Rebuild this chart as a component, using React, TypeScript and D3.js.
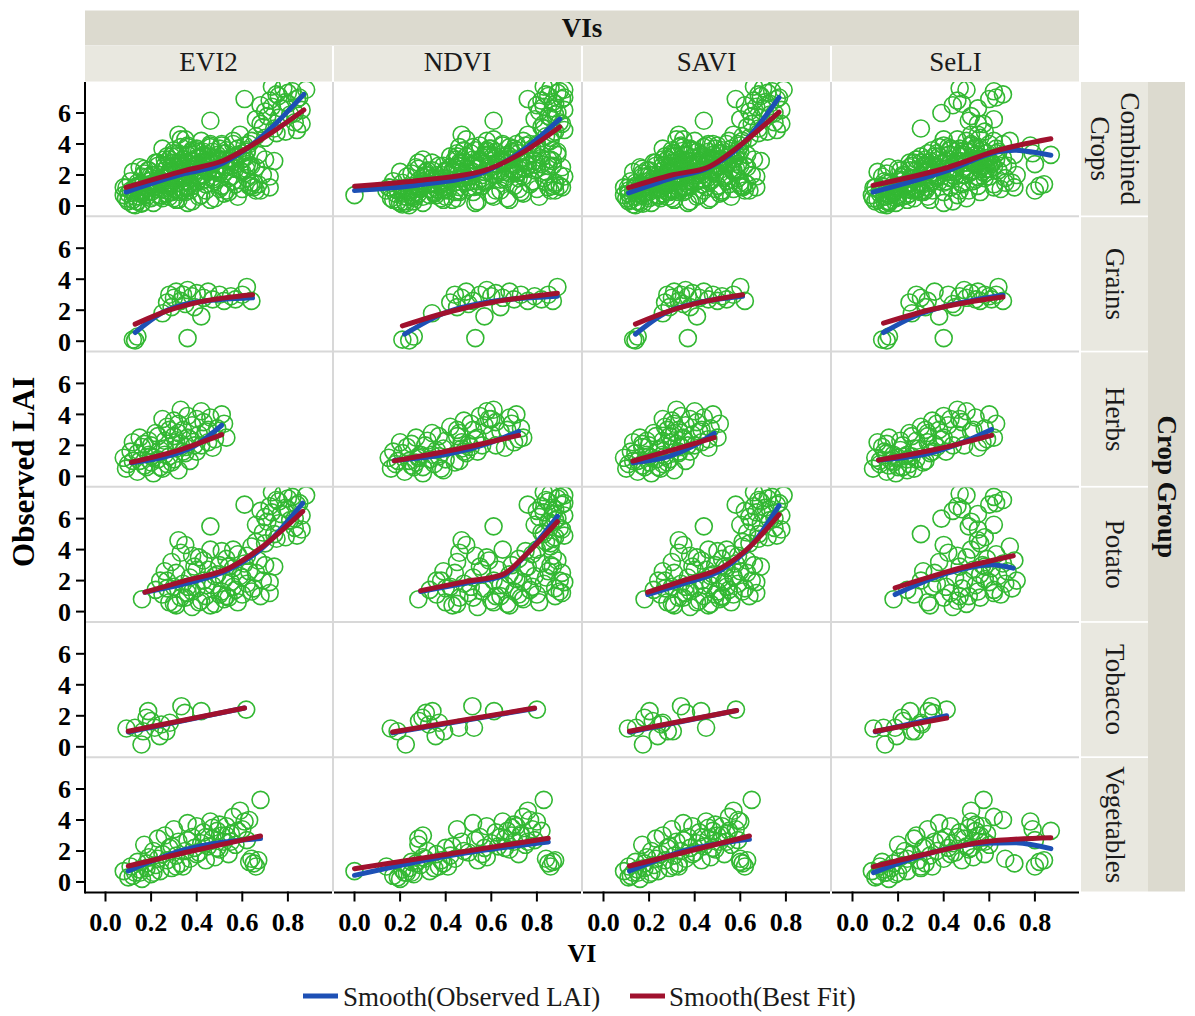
import React from 'react';
import * as d3 from 'd3';

// ---------- categories & ticks ----------
const VIS = ['EVI2', 'NDVI', 'SAVI', 'SeLI'];
const GROUPS = ['Combined Crops', 'Grains', 'Herbs', 'Potato', 'Tobacco', 'Vegetables'];
const Y_TICKS = [0, 2, 4, 6];
const X_TICKS = [0, 0.2, 0.4, 0.6, 0.8];
const LEGEND = ['Smooth(Observed LAI)', 'Smooth(Best Fit)'];

// ---------- observations (LAI shared across VIs; null = VI not available) ----------
const grainsLAI = [0.1,0.3,0.05,0.2,1.8,2.5,3.0,2.8,3.2,2.6,3.0,2.4,3.3,2.9,3.1,1.6,2.8,3.2,2.7,3.0,2.6,2.9,2.7,3.0,3.5,2.6,2.2,2.2];
const grainsEVI2 = [0.12,0.14,0.13,0.36,0.25,0.27,0.28,0.30,0.31,0.33,0.34,0.35,0.36,0.38,0.40,0.42,0.43,0.45,0.47,0.50,0.52,0.55,0.57,0.60,0.62,0.64,0.29,0.39];
const grainsNDVI = [0.21,0.26,0.24,0.53,0.34,0.42,0.44,0.47,0.49,0.52,0.55,0.50,0.58,0.60,0.62,0.57,0.65,0.68,0.70,0.73,0.76,0.79,0.82,0.85,0.89,0.87,0.45,0.64];
const grainsSAVI = [0.13,0.15,0.14,0.37,0.26,0.27,0.28,0.30,0.31,0.33,0.34,0.35,0.36,0.37,0.39,0.41,0.42,0.44,0.46,0.48,0.50,0.52,0.54,0.57,0.60,0.62,0.29,0.38];
const grainsSeLI = [0.13,0.16,0.15,0.40,0.26,0.25,0.28,0.30,0.36,0.33,0.42,0.44,0.49,0.47,0.52,0.38,0.50,0.55,0.54,0.58,0.56,0.60,0.61,0.63,0.64,0.66,0.32,0.45];

const herbsLAI = [0.5,0.8,1.2,1.6,2.2,0.3,1.0,1.9,2.5,0.6,1.4,2.0,0.2,2.8,1.1,1.7,0.5,2.3,3.2,1.3,0.9,2.6,3.6,1.8,0.4,2.1,3.0,1.5,3.9,2.4,1.0,3.3,2.0,4.2,2.7,1.6,3.5,2.9,1.85,3.8,2.2,4.0,3.1,2.5,3.4,1.3,2.1,0.8,1.9,2.8,4.3,3.7,
  1.0,1.5,0.7,2.3,1.2,2.6,0.6,1.8,3.0,1.1,2.2,3.4,1.6,2.5,3.7,2.0,3.0,2.4,1.4,0.9];
const herbsEVI2 = [0.09,0.10,0.08,0.11,0.12,0.14,0.15,0.16,0.15,0.18,0.19,0.20,0.21,0.22,0.23,0.24,0.25,0.26,0.27,0.28,0.29,0.30,0.30,0.31,0.32,0.33,0.34,0.35,0.36,0.37,0.37,0.38,0.39,0.42,0.41,0.40,0.43,0.44,0.47,0.46,0.45,0.51,0.49,0.53,0.52,0.20,0.17,0.27,0.35,0.32,0.33,0.25,
  0.12,0.14,0.17,0.19,0.21,0.23,0.24,0.26,0.28,0.30,0.31,0.32,0.34,0.36,0.40,0.42,0.45,0.48,0.26,0.20];
const herbsNDVI = [0.16,0.18,0.15,0.17,0.20,0.22,0.24,0.23,0.27,0.26,0.29,0.31,0.30,0.34,0.33,0.36,0.38,0.40,0.42,0.37,0.44,0.45,0.48,0.47,0.39,0.50,0.52,0.49,0.55,0.53,0.46,0.57,0.56,0.58,0.60,0.54,0.62,0.64,0.66,0.68,0.70,0.71,0.73,0.74,0.69,0.28,0.25,0.35,0.51,0.46,0.61,0.59,
  0.19,0.21,0.25,0.32,0.28,0.37,0.30,0.39,0.45,0.40,0.47,0.51,0.48,0.54,0.60,0.62,0.67,0.72,0.34,0.27];
const herbsSAVI = [0.10,0.11,0.09,0.12,0.13,0.15,0.15,0.17,0.16,0.18,0.19,0.20,0.21,0.22,0.23,0.24,0.25,0.26,0.27,0.27,0.28,0.29,0.30,0.30,0.31,0.32,0.33,0.33,0.34,0.35,0.36,0.36,0.37,0.40,0.39,0.38,0.41,0.42,0.46,0.44,0.43,0.48,0.47,0.50,0.51,0.20,0.17,0.26,0.34,0.31,0.32,0.26,
  0.13,0.14,0.17,0.19,0.21,0.23,0.24,0.25,0.28,0.29,0.30,0.31,0.33,0.35,0.38,0.40,0.43,0.46,0.26,0.20];
const herbsSeLI = [0.09,0.12,0.10,0.14,0.11,0.15,0.17,0.13,0.16,0.20,0.18,0.22,0.19,0.25,0.24,0.21,0.27,0.28,0.30,0.26,0.31,0.33,0.35,0.29,0.24,0.36,0.38,0.34,0.40,0.39,0.32,0.42,0.44,0.50,0.46,0.41,0.48,0.52,0.55,0.54,0.57,0.60,0.58,0.62,0.63,0.23,0.15,0.25,0.37,0.33,0.46,0.43,
  0.12,0.15,0.16,0.21,0.20,0.26,0.22,0.27,0.32,0.28,0.33,0.37,0.35,0.40,0.47,0.49,0.53,0.59,0.24,0.18];

const potatoLAI = [7.6,7.4,7.2,7.0,6.8,6.6,6.5,6.3,6.0,5.8,5.6,5.5,5.3,5.0,4.8,4.6,4.4,4.3,6.9,7.5,
  0.8,1.4,1.1,2.0,0.6,1.6,2.5,3.2,0.9,1.8,3.8,1.2,2.2,0.3,2.9,1.5,3.5,0.7,2.0,1.0,2.7,4.0,1.7,0.5,2.4,3.0,1.3,2.1,3.4,0.9,1.9,2.8,1.4,3.7,2.3,1.1,3.1,1.8,2.6,4.2,1.5,3.3,2.0,1.2,2.9,1.6,2.6,0.4,3.6,1.0,
  7.3,7.1,6.9,6.7,6.4,6.2,6.1,5.9,5.7,5.4,5.1,4.9,4.7,4.5,7.7,
  0.5,0.9,1.3,0.6,1.7,0.4,2.3,1.1,0.8,2.9,1.6,0.6,2.2,3.6,1.3,2.5,1.0,3.0,1.9,4.0,3.3,2.7,1.5,2.0,3.9];
const potatoEVI2 = [0.78,0.82,0.75,0.85,0.72,0.80,0.68,0.77,0.83,0.71,0.66,0.46,0.86,0.74,0.79,0.32,0.70,0.35,0.61,0.88,
  0.16,0.22,0.25,0.27,0.28,0.30,0.31,0.29,0.33,0.34,0.33,0.36,0.37,0.38,0.39,0.40,0.41,0.42,0.43,0.44,0.45,0.46,0.47,0.48,0.49,0.50,0.51,0.52,0.53,0.54,0.55,0.56,0.57,0.58,0.59,0.60,0.61,0.62,0.63,0.64,0.65,0.67,0.69,0.72,0.74,0.36,0.26,0.31,0.38,0.53,
  0.80,0.76,0.84,0.79,0.73,0.86,0.70,0.81,0.76,0.83,0.69,0.84,0.75,0.66,0.73,
  0.30,0.35,0.38,0.41,0.44,0.46,0.48,0.50,0.52,0.54,0.56,0.58,0.60,0.62,0.64,0.66,0.68,0.70,0.72,0.56,0.43,0.40,0.27,0.24,0.51];
const potatoNDVI = [0.86,0.90,0.84,0.92,0.82,0.88,0.80,0.87,0.89,0.85,0.79,0.61,0.91,0.83,0.88,0.47,0.86,0.49,0.76,0.92,
  0.28,0.33,0.36,0.38,0.40,0.42,0.44,0.45,0.46,0.48,0.46,0.50,0.52,0.54,0.55,0.57,0.58,0.60,0.61,0.62,0.63,0.65,0.66,0.67,0.68,0.69,0.70,0.71,0.72,0.73,0.74,0.75,0.77,0.78,0.79,0.80,0.82,0.83,0.85,0.86,0.88,0.89,0.90,0.91,0.87,0.51,0.39,0.43,0.53,0.64,
  0.89,0.85,0.91,0.87,0.83,0.92,0.81,0.88,0.86,0.90,0.82,0.92,0.87,0.84,0.83,
  0.45,0.52,0.56,0.61,0.64,0.68,0.70,0.72,0.74,0.76,0.78,0.81,0.84,0.87,0.90,0.91,0.88,0.86,0.92,0.80,0.59,0.56,0.40,0.36,0.75];
const potatoSAVI = [0.70,0.74,0.68,0.77,0.66,0.73,0.62,0.70,0.75,0.65,0.60,0.44,0.78,0.68,0.72,0.33,0.64,0.35,0.58,0.79,
  0.18,0.22,0.25,0.27,0.28,0.30,0.31,0.30,0.33,0.34,0.33,0.36,0.37,0.38,0.39,0.40,0.41,0.42,0.43,0.44,0.45,0.46,0.47,0.47,0.48,0.49,0.50,0.51,0.52,0.52,0.53,0.54,0.55,0.56,0.57,0.57,0.58,0.59,0.60,0.61,0.62,0.63,0.65,0.67,0.69,0.36,0.26,0.31,0.38,0.52,
  0.72,0.69,0.76,0.71,0.67,0.78,0.64,0.73,0.69,0.75,0.63,0.76,0.68,0.61,0.66,
  0.30,0.35,0.38,0.41,0.44,0.46,0.47,0.49,0.51,0.53,0.54,0.56,0.57,0.59,0.61,0.63,0.64,0.66,0.67,0.54,0.43,0.40,0.27,0.24,0.50];
const potatoSeLI = [0.47,0.62,0.66,0.63,0.46,0.48,0.44,0.55,0.39,0.52,0.62,0.51,0.55,0.30,0.58,0.55,0.56,0.40,0.60,0.50,
  0.18,0.24,0.27,0.30,0.33,0.35,0.36,0.38,0.40,0.37,0.42,0.43,0.45,0.44,0.47,0.48,0.50,0.46,0.49,0.51,0.53,0.52,0.54,0.50,0.56,0.57,0.55,0.58,0.59,0.56,0.60,0.61,0.62,0.63,0.64,0.65,0.66,0.67,0.68,0.69,0.70,0.71,0.72,0.62,0.58,0.41,0.31,0.34,0.46,0.47,
  null,null,null,null,null,null,null,null,null,null,null,null,null,null,null,
  null,null,null,null,null,null,null,null,null,null,null,null,null,null,null,null,null,null,null,null,null,null,null,null,null];

const tobaccoLAI = [1.18,0.15,2.3,1.87,1.66,1.44,0.69,1.0,1.55,2.62,2.19,2.3,2.4,1.23,1.0,1.23];
const tobaccoEVI2 = [0.092,0.158,0.187,0.18,0.20,0.245,0.238,0.267,0.282,0.333,0.348,0.42,0.617,0.129,0.165,0.216];
const tobaccoNDVI = [0.159,0.225,0.342,0.298,0.283,0.327,0.356,0.189,0.371,0.517,0.313,0.612,0.80,0.458,0.393,0.524];
const tobaccoSAVI = [0.107,0.173,0.202,0.18,0.216,0.253,0.238,0.282,0.26,0.34,0.362,0.428,0.581,0.143,0.304,0.45];
const tobaccoSeLI = [0.092,0.143,0.253,0.216,0.224,0.304,0.194,0.26,0.30,0.348,0.355,0.333,0.413,0.136,0.275,0.187];

const vegLAI = [0.7,0.3,1.0,0.6,1.3,0.2,2.4,0.9,1.6,0.5,2.0,1.1,2.8,0.7,1.8,3.0,1.4,2.2,0.9,3.4,1.7,2.6,1.2,3.8,2.0,1.5,2.9,3.6,1.9,2.5,
  3.2,1.4,2.3,3.9,2.8,1.6,3.3,2.1,3.0,2.6,3.6,1.8,3.1,4.2,2.4,4.6,3.4,2.7,3.9,5.3,1.5,1.2,1.0,1.4,3.3,4.0,0.6,2.2,1.0,2.9,
  0.4,0.8,1.2,0.6,1.5,2.3,1.0,2.7,1.8,3.5,2.2,3.0,2.6,3.7,1.3];
const vegEVI2 = [0.08,0.10,0.11,0.13,0.14,0.16,0.17,0.18,0.19,0.20,0.21,0.22,0.23,0.24,0.25,0.26,0.27,0.28,0.29,0.30,0.31,0.32,0.33,0.36,0.35,0.37,0.38,0.40,0.41,0.42,
  0.43,0.44,0.45,0.46,0.47,0.48,0.49,0.50,0.51,0.52,0.53,0.54,0.55,0.56,0.57,0.59,0.60,0.62,0.61,0.68,0.64,0.65,0.66,0.67,0.58,0.63,0.15,0.39,0.34,0.44,
  0.12,0.15,0.18,0.21,0.23,0.29,0.31,0.36,0.40,0.47,0.49,0.53,0.55,0.50,0.63];
const vegNDVI = [0.00,0.19,0.14,0.22,0.25,0.20,0.28,0.24,0.30,0.26,0.32,0.29,0.28,0.33,0.36,0.30,0.38,0.40,0.35,0.45,0.42,0.47,0.39,0.52,0.48,0.44,0.55,0.58,0.50,0.60,
  0.62,0.54,0.63,0.65,0.66,0.58,0.67,0.68,0.69,0.70,0.71,0.72,0.73,0.74,0.75,0.76,0.78,0.79,0.80,0.83,0.84,0.85,0.86,0.88,0.82,0.77,0.23,0.57,0.41,0.64,
  0.17,0.21,0.27,0.25,0.31,0.43,0.37,0.53,0.56,0.69,0.66,0.73,0.76,0.70,0.87];
const vegSAVI = [0.09,0.11,0.11,0.13,0.14,0.16,0.17,0.18,0.19,0.20,0.21,0.22,0.23,0.24,0.25,0.26,0.27,0.28,0.29,0.30,0.31,0.32,0.33,0.35,0.34,0.36,0.37,0.39,0.40,0.41,
  0.42,0.43,0.44,0.45,0.46,0.47,0.48,0.49,0.50,0.51,0.52,0.53,0.54,0.55,0.56,0.57,0.58,0.59,0.60,0.65,0.60,0.61,0.62,0.63,0.55,0.59,0.15,0.38,0.33,0.43,
  0.12,0.15,0.18,0.21,0.23,0.29,0.31,0.35,0.39,0.46,0.48,0.52,0.54,0.49,0.60];
const vegSeLI = [0.085,0.10,0.12,0.14,0.13,0.16,0.20,0.17,0.21,0.19,0.23,0.22,0.27,0.24,0.26,0.28,0.29,0.31,0.30,0.33,0.34,0.36,0.32,0.38,0.37,0.40,0.41,0.43,0.45,0.44,
  0.47,0.48,0.50,0.52,0.49,0.53,0.54,0.51,0.55,0.56,0.57,0.58,0.59,0.62,0.60,0.52,0.79,0.80,0.78,0.575,0.67,0.71,0.80,0.84,0.87,0.66,0.15,0.42,0.35,0.46,
  0.11,0.14,0.18,0.20,0.24,0.32,0.30,0.39,0.43,0.51,0.52,0.56,0.58,0.54,0.82];

// ---------- smooth curves: [VI, LAI] per VI (EVI2, NDVI, SAVI, SeLI) ----------
const combinedObsSmooth = [
  [[0.09,0.9],[0.35,2.1],[0.49,2.6],[0.61,3.6],[0.87,7.2]],
  [[0.0,1.0],[0.28,1.35],[0.57,2.2],[0.72,3.4],[0.90,5.6]],
  [[0.11,0.84],[0.30,1.8],[0.465,2.5],[0.58,3.6],[0.77,7.0]],
  [[0.09,0.9],[0.42,2.3],[0.64,3.5],[0.71,3.6],[0.87,3.27]],
];
const combinedFitSmooth = [
  [[0.09,1.2],[0.35,2.3],[0.52,2.95],[0.64,3.9],[0.87,6.2]],
  [[0.0,1.27],[0.28,1.65],[0.57,2.3],[0.72,3.3],[0.90,5.1]],
  [[0.11,1.18],[0.30,2.0],[0.465,2.55],[0.58,3.7],[0.77,6.06]],
  [[0.09,1.33],[0.42,2.5],[0.64,3.6],[0.87,4.34]],
];
const grainsObsSmooth = [
  [[0.13,0.56],[0.25,1.85],[0.39,2.5],[0.645,2.8]],
  [[0.22,0.45],[0.40,1.85],[0.575,2.5],[0.89,2.9]],
  [[0.14,0.45],[0.275,1.85],[0.42,2.5],[0.61,2.9]],
  [[0.136,0.56],[0.275,1.63],[0.42,2.3],[0.66,2.97]],
];
const grainsFitSmooth = [
  [[0.13,1.1],[0.27,1.95],[0.42,2.55],[0.645,3.0]],
  [[0.21,0.99],[0.43,1.95],[0.6,2.5],[0.89,3.1]],
  [[0.14,1.1],[0.29,1.95],[0.44,2.55],[0.61,3.0]],
  [[0.136,1.16],[0.35,2.06],[0.5,2.5],[0.66,2.85]],
];
const herbsObsSmooth = [
  [[0.114,0.88],[0.30,1.42],[0.39,1.96],[0.51,3.3]],
  [[0.174,1.03],[0.43,1.5],[0.6,2.2],[0.72,2.9]],
  [[0.129,0.88],[0.29,1.3],[0.40,2.0],[0.486,2.77]],
  [[0.114,1.05],[0.35,1.53],[0.50,2.3],[0.61,3.03]],
];
const herbsFitSmooth = [
  [[0.114,0.92],[0.30,1.6],[0.51,2.7]],
  [[0.174,1.0],[0.43,1.7],[0.72,2.65]],
  [[0.129,0.99],[0.30,1.7],[0.486,2.5]],
  [[0.114,1.05],[0.35,1.7],[0.61,2.65]],
];
const potatoObsSmooth = [
  [[0.173,1.25],[0.35,1.8],[0.54,2.7],[0.68,4.0],[0.865,7.0]],
  [[0.29,1.3],[0.49,1.85],[0.65,2.3],[0.76,3.8],[0.89,6.15]],
  [[0.194,1.1],[0.35,1.8],[0.52,2.7],[0.65,4.3],[0.77,6.84]],
  [[0.187,1.1],[0.42,2.5],[0.61,3.03],[0.705,2.8]],
];
const potatoFitSmooth = [
  [[0.173,1.25],[0.35,2.0],[0.54,2.8],[0.68,4.1],[0.865,6.47]],
  [[0.29,1.35],[0.49,1.95],[0.65,2.4],[0.76,3.8],[0.89,5.8]],
  [[0.194,1.25],[0.35,2.0],[0.52,2.85],[0.65,4.3],[0.77,6.26]],
  [[0.187,1.53],[0.42,2.6],[0.705,3.6]],
];
const tobaccoObsSmooth = [
  [[0.10,0.95],[0.61,2.5]],
  [[0.167,0.9],[0.79,2.47]],
  [[0.114,0.95],[0.584,2.34]],
  [[0.10,0.97],[0.413,2.0]],
];
const tobaccoFitSmooth = [
  [[0.10,1.0],[0.61,2.5]],
  [[0.167,0.95],[0.79,2.5]],
  [[0.114,1.0],[0.584,2.34]],
  [[0.10,1.0],[0.413,1.85]],
];
const vegObsSmooth = [
  [[0.10,0.71],[0.35,2.1],[0.68,2.8]],
  [[0.0,0.43],[0.445,1.78],[0.85,2.58]],
  [[0.114,0.71],[0.35,2.0],[0.64,2.75]],
  [[0.092,0.6],[0.35,1.9],[0.57,2.5],[0.71,2.54],[0.87,2.15]],
];
const vegFitSmooth = [
  [[0.10,1.03],[0.35,1.9],[0.68,2.97]],
  [[0.0,0.86],[0.85,2.82]],
  [[0.114,1.03],[0.64,2.97]],
  [[0.092,0.99],[0.35,1.9],[0.57,2.58],[0.87,2.86]],
];

// ---------- assembly ----------
const groupLAI = [grainsLAI, herbsLAI, potatoLAI, tobaccoLAI, vegLAI];
const groupVI: (number | null)[][][] = [
  [grainsEVI2, grainsNDVI, grainsSAVI, grainsSeLI],
  [herbsEVI2, herbsNDVI, herbsSAVI, herbsSeLI],
  [potatoEVI2, potatoNDVI, potatoSAVI, potatoSeLI],
  [tobaccoEVI2, tobaccoNDVI, tobaccoSAVI, tobaccoSeLI],
  [vegEVI2, vegNDVI, vegSAVI, vegSeLI],
];
const obsSmooth = [combinedObsSmooth, grainsObsSmooth, herbsObsSmooth, potatoObsSmooth, tobaccoObsSmooth, vegObsSmooth];
const fitSmooth = [combinedFitSmooth, grainsFitSmooth, herbsFitSmooth, potatoFitSmooth, tobaccoFitSmooth, vegFitSmooth];

function pointsFor(row: number, col: number): [number, number][] {
  const idx = row === 0 ? [0, 1, 2, 3, 4] : [row - 1];
  const out: [number, number][] = [];
  idx.forEach((g) => {
    const lai = groupLAI[g];
    const vi = groupVI[g][col];
    lai.forEach((l, i) => {
      const v = vi[i];
      if (v !== null && v !== undefined) out.push([v, l]);
    });
  });
  return out;
}

// ---------- layout ----------
const FONT = "'Liberation Serif','Times New Roman',Times,serif";
const PLOT_L = 85;
const PLOT_T = 82;
const COL_STEP = 249;
const PANEL_W = 247;
const ROW_STEP = 135.2;
const PANEL_H = 133.5;
const GREEN = '#33b833';
const BLUE = '#1d50b5';
const RED = '#a0112e';
const STRIP_DARK = '#dcdacf';
const STRIP_LIGHT = '#e9e8e0';

export default function App() {
  const bottom = PLOT_T + (GROUPS.length - 1) * ROW_STEP + PANEL_H;
  const rightEdge = PLOT_L + (VIS.length - 1) * COL_STEP + PANEL_W;

  const panels: React.ReactNode[] = [];
  GROUPS.forEach((g, r) => {
    VIS.forEach((v, c) => {
      const left = PLOT_L + c * COL_STEP;
      const top = PLOT_T + r * ROW_STEP;
      const x = d3.scaleLinear().domain([0, 0.8]).range([left + 20.5, left + 20.5 + 182.4]);
      const y = d3.scaleLinear().domain([0, 6]).range([top + 124, top + 31]);
      const line = d3.line<number[]>().x((d) => x(d[0])).y((d) => y(d[1])).curve(d3.curveMonotoneX);
      const pts = pointsFor(r, c);
      const id = `clip-${r}-${c}`;
      panels.push(
        <g key={id}>
          <clipPath id={id}>
            <rect x={left} y={top} width={PANEL_W} height={PANEL_H} />
          </clipPath>
          <g clipPath={`url(#${id})`}>
            {pts.map((p, i) => (
              <circle key={i} cx={x(p[0])} cy={y(p[1])} r={8.5} fill="none" stroke={GREEN} strokeWidth={1.6} />
            ))}
            <path d={line(obsSmooth[r][c]) || ''} fill="none" stroke={BLUE} strokeWidth={5} strokeLinecap="round" />
            <path d={line(fitSmooth[r][c]) || ''} fill="none" stroke={RED} strokeWidth={5} strokeLinecap="round" />
          </g>
        </g>
      );
    });
  });

  const yAxes = GROUPS.map((g, r) => {
    const top = PLOT_T + r * ROW_STEP;
    const y = d3.scaleLinear().domain([0, 6]).range([top + 124, top + 31]);
    return (
      <g key={`ya-${r}`}>
        {Y_TICKS.map((t) => (
          <g key={t}>
            <line x1={PLOT_L - 9} x2={PLOT_L} y1={y(t)} y2={y(t)} stroke="#000" strokeWidth={2} />
            <text x={PLOT_L - 14} y={y(t)} dy="0.36em" textAnchor="end" fontFamily={FONT} fontWeight="bold" fontSize={26}>
              {t}
            </text>
          </g>
        ))}
      </g>
    );
  });

  const xAxes = VIS.map((v, c) => {
    const left = PLOT_L + c * COL_STEP;
    const x = d3.scaleLinear().domain([0, 0.8]).range([left + 20.5, left + 20.5 + 182.4]);
    return (
      <g key={`xa-${c}`}>
        <line x1={left} x2={left + PANEL_W} y1={bottom + 1} y2={bottom + 1} stroke="#000" strokeWidth={2} />
        {X_TICKS.map((t) => (
          <g key={t}>
            <line x1={x(t)} x2={x(t)} y1={bottom} y2={bottom + 10} stroke="#000" strokeWidth={2} />
            <text x={x(t)} y={bottom + 39} textAnchor="middle" fontFamily={FONT} fontWeight="bold" fontSize={26}>
              {d3.format('.1f')(t)}
            </text>
          </g>
        ))}
      </g>
    );
  });

  const seps: React.ReactNode[] = [];
  for (let c = 1; c < VIS.length; c++) {
    const sx = PLOT_L + c * COL_STEP - 1;
    seps.push(<line key={`vs${c}`} x1={sx} x2={sx} y1={PLOT_T} y2={bottom} stroke="#d8d8d8" strokeWidth={2} />);
  }
  for (let r = 1; r < GROUPS.length; r++) {
    const sy = PLOT_T + r * ROW_STEP - 0.85;
    seps.push(<line key={`hs${r}`} x1={PLOT_L} x2={rightEdge} y1={sy} y2={sy} stroke="#d8d8d8" strokeWidth={2} />);
  }

  const colHeaders = VIS.map((v, c) => {
    const left = PLOT_L + c * COL_STEP;
    return (
      <g key={`ch-${v}`}>
        <rect x={left} y={46} width={PANEL_W} height={35.5} fill={STRIP_LIGHT} />
        <text x={left + PANEL_W / 2} y={71} textAnchor="middle" fontFamily={FONT} fontSize={27} fill="#1a1a1a">
          {v}
        </text>
      </g>
    );
  });

  const rowHeaders = GROUPS.map((g, r) => {
    const top = PLOT_T + r * ROW_STEP;
    const cx = 1115;
    const cy = top + PANEL_H / 2;
    const words = g.split(' ');
    return (
      <g key={`rh-${g}`}>
        <rect x={1081} y={top} width={67} height={PANEL_H} fill={STRIP_LIGHT} />
        <g transform={`translate(${cx},${cy}) rotate(90)`}>
          {words.map((w, i) => (
            <text
              key={w}
              x={0}
              y={(i - (words.length - 1) / 2) * 30}
              textAnchor="middle"
              dominantBaseline="central"
              fontFamily={FONT}
              fontSize={27}
              fill="#1a1a1a"
            >
              {w}
            </text>
          ))}
        </g>
      </g>
    );
  });

  return (
    <svg width={1195} height={1016} style={{ position: 'absolute', left: 0, top: 0, background: '#fff' }}>
      <rect x={0} y={0} width={1195} height={1016} fill="#fff" />
      <rect x={PLOT_L} y={10.5} width={rightEdge - PLOT_L} height={35} fill={STRIP_DARK} />
      <text x={(PLOT_L + rightEdge) / 2} y={36.5} textAnchor="middle" fontFamily={FONT} fontWeight="bold" fontSize={27} fill="#111">
        VIs
      </text>
      {colHeaders}
      {rowHeaders}
      <rect x={1148} y={PLOT_T} width={37} height={bottom - PLOT_T} fill={STRIP_DARK} />
      <g transform={`translate(1166.5,${(PLOT_T + bottom) / 2}) rotate(90)`}>
        <text x={0} y={0} textAnchor="middle" dominantBaseline="central" fontFamily={FONT} fontWeight="bold" fontSize={27} fill="#111">
          Crop Group
        </text>
      </g>
      {seps}
      {panels}
      <line x1={PLOT_L} x2={PLOT_L} y1={PLOT_T} y2={bottom + 2} stroke="#000" strokeWidth={2} />
      {yAxes}
      {xAxes}
      <g transform={`translate(23,${(PLOT_T + bottom) / 2 - 15}) rotate(-90)`}>
        <text x={0} y={0} textAnchor="middle" dominantBaseline="central" fontFamily={FONT} fontWeight="bold" fontSize={31}>
          Observed LAI
        </text>
      </g>
      <text x={582} y={962} textAnchor="middle" fontFamily={FONT} fontWeight="bold" fontSize={26}>
        VI
      </text>
      <line x1={303} x2={338} y1={996} y2={996} stroke={BLUE} strokeWidth={5} />
      <text x={343} y={1006} fontFamily={FONT} fontSize={27} fill="#1a1a1a">
        {LEGEND[0]}
      </text>
      <line x1={630} x2={665} y1={996} y2={996} stroke={RED} strokeWidth={5} />
      <text x={669} y={1006} fontFamily={FONT} fontSize={27} fill="#1a1a1a">
        {LEGEND[1]}
      </text>
    </svg>
  );
}
